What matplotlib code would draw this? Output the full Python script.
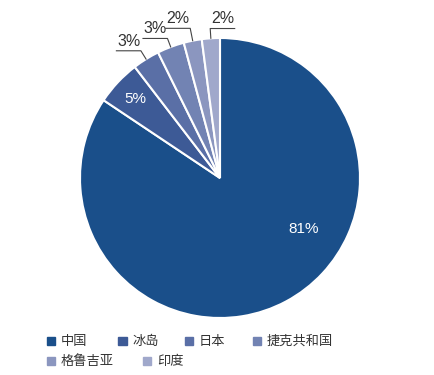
import numpy as np
import matplotlib.pyplot as plt
from matplotlib.patches import Rectangle

plt.rcParams['font.family'] = ['Noto Sans CJK SC', 'DejaVu Sans']

countries = ['中国', '冰岛', '日本', '捷克共和国', '格鲁吉亚', '印度']
shares = [81, 5, 3, 3, 2, 2]
labels = ['81%', '5%', '3%', '3%', '2%', '2%']
colors = ['#1a4f8a', '#3d5a96', '#5a6fa6', '#7283b3', '#8b96bf', '#a0a8cb']

fig = plt.figure(figsize=(4.35, 3.75), dpi=100)
ax = fig.add_axes([80 / 435, 57 / 375, 280 / 435, 280 / 375])

wedges, _ = ax.pie(shares, colors=colors, startangle=90, counterclock=False,
                   radius=1, wedgeprops=dict(edgecolor='white', linewidth=1.5))
ax.set_xlim(-1, 1)
ax.set_ylim(-1, 1)
ax.axis('off')

# inside labels
ax.text(0.70 * np.cos(np.radians(-31.6)), 0.70 * np.sin(np.radians(-31.6)), labels[0],
        color='white', fontsize=11, ha='center', va='center', family='Liberation Sans')
w = wedges[1]
mid = np.radians((w.theta1 + w.theta2) / 2)
ax.text(0.83 * np.cos(mid), 0.83 * np.sin(mid), labels[1],
        color='white', fontsize=11, ha='center', va='center', family='Liberation Sans')

# outside labels with leader lines (last one turns right)
elbow_r = [1.07, 1.065, 1.09, 1.07]
direction = [-1, -1, -1, 1]
for w, lab, r, d in zip(wedges[2:], labels[2:], elbow_r, direction):
    mid = np.radians((w.theta1 + w.theta2) / 2)
    x0, y0 = np.cos(mid), np.sin(mid)
    x1, y1 = r * x0, r * y0
    x2 = x1 + d * 0.175
    ax.plot([x0, x1, x2], [y0, y1, y1], color='#444444', lw=0.8, clip_on=False)
    ax.text((x1 + x2) / 2, y1 + 0.015, lab, color='#333333', fontsize=11.5,
            ha='center', va='bottom', family='Liberation Sans')

# legend laid out in two rows like the source
rows = [[(47, 0), (118, 1), (185, 2), (253, 3)], [(47, 4), (143, 5)]]
for yy, row in zip([341, 361], rows):
    for xx, i in row:
        fig.patches.append(Rectangle((xx / 435, 1 - (yy + 4) / 375), 8.5 / 435, 8.5 / 375,
                                     transform=fig.transFigure, color=colors[i]))
        fig.text((xx + 14) / 435, 1 - yy / 375, countries[i], fontsize=9.5,
                 color='#333333', va='center', ha='left')

fig.savefig('out.png', dpi=100)
